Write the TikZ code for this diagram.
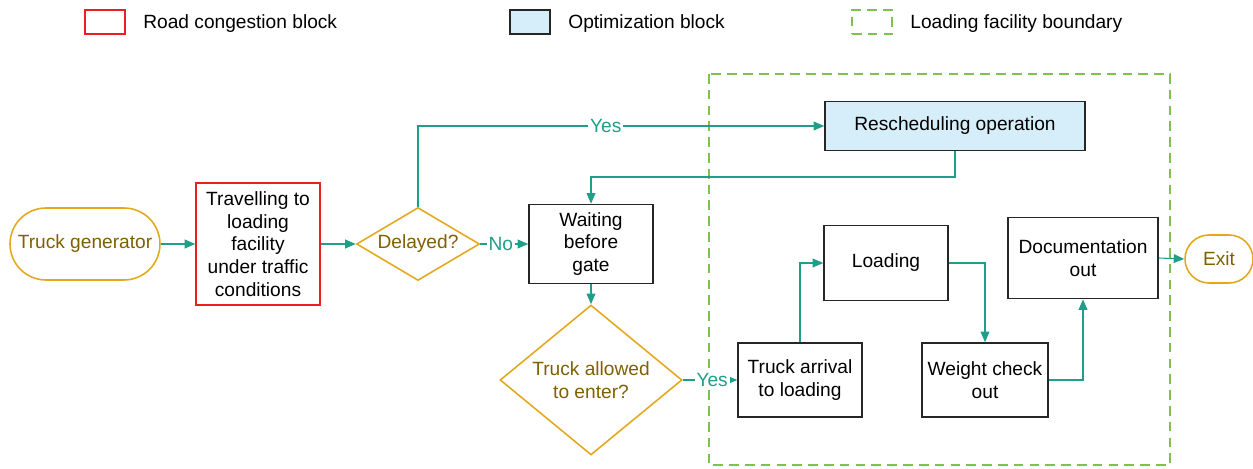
\documentclass[tikz,border=0pt]{standalone}
\usepackage{fontspec}
\setmainfont{Liberation Sans}
\usetikzlibrary{arrows.meta,shapes.geometric,positioning}
\definecolor{flowc}{RGB}{31,158,137}
\definecolor{goldc}{RGB}{227,168,30}
\definecolor{goldt}{RGB}{127,96,0}
\definecolor{redc}{RGB}{232,32,32}
\definecolor{bluef}{RGB}{213,238,249}
\definecolor{greenc}{RGB}{125,194,75}

\begin{document}
\begin{tikzpicture}
[x=0.02cm, y=-0.02cm, font=\fontsize{10.9}{13}\selectfont,
box/.style={draw=black!85, line width=0.9pt, align=center, minimum width=2.48cm},
term/.style={draw=goldc, line width=0.9pt, text=goldt, align=center},
cond/.style={diamond, draw=goldc, line width=0.9pt, text=goldt, align=center, inner sep=0pt},
flow/.style={draw=flowc, line width=0.6pt, -{Triangle[length=6pt,width=5pt]}},
lab/.style={fill=white, text=flowc, inner sep=1pt},
bound/.style={draw=greenc, line width=0.9pt, dash pattern=on 5.5pt off 3.5pt}]
\useasboundingbox (0,0) rectangle (1253,469);

% legend
\node (lg1) at (105,22)[draw=redc, line width=0.9pt, minimum width=0.8cm, minimum height=0.48cm] {};
\node (lt1) at (143,24)[anchor=west, inner sep=0pt] {Road congestion block};
\node (lg2) at (530,22)[draw=black!85, fill=bluef, line width=0.9pt, minimum width=0.8cm, minimum height=0.48cm] {};
\node (lt2) at (568,24)[anchor=west, inner sep=0pt] {Optimization block};
\node (lg3) at (872,22)[bound, minimum width=0.8cm, minimum height=0.48cm] {};
\node (lt3) at (910,24)[anchor=west, inner sep=0pt] {Loading facility boundary};

% loading facility
\draw[bound] (709,74) rectangle (1170,465);

\node (gen) at (85,244)[term, minimum width=3cm, minimum height=1.44cm, rounded corners=0.72cm] {Truck generator};
\node (trav) at (258,244)[box, draw=redc, minimum height=2.44cm] {Travelling to\\loading\\facility\\under traffic\\conditions};
\node (delay) at (418,244)[cond, aspect=1.68, minimum width=2.46cm, minimum height=1.46cm] {Delayed?};
\node (wait) at (591,244)[box, minimum height=1.58cm] {Waiting\\before\\gate};
\node (allow) at (591,380)[cond, aspect=1.21, minimum width=3.64cm, minimum height=3cm] {Truck allowed\\to enter?};
\node (arr) at (800,380)[box, minimum height=1.48cm] {Truck arrival\\to loading};
\node (load) at (886,263)[box, minimum height=1.5cm] {Loading};
\node (weigh) at (985,380)[box, minimum height=1.48cm] {Weight check\\out};
\node (doc) at (1083,258)[box, minimum width=3cm, minimum height=1.62cm] {Documentation\\out};
\node (exit) at (1219,259)[term, minimum width=1.36cm, minimum height=0.96cm, rounded corners=0.48cm] {Exit};
\node (resch) at (955,126)[box, fill=bluef, minimum width=5.2cm, minimum height=0.98cm] {Rescheduling operation};
\coordinate (c1) at (955,177);

\draw[flow] (gen) -- (trav);
\draw[flow] (trav) -- (delay);
\draw[flow] (delay) -- node[lab, pos=0.43] {No} (wait);
\draw[flow] (delay.north) |- node[lab, pos=0.731] {Yes} (resch.west);
\draw[flow] (resch.south) -- (c1) -| (wait.north);
\draw[flow] (wait) -- (allow);
\draw[flow] (allow.east) -- node[lab, pos=0.54] {Yes} (arr.west);
\draw[flow] (arr.north) |- (load.west);
\draw[flow] (load.east) -| (weigh.north);
\draw[flow] (weigh.east) -| (doc.south);
\draw[flow] (doc.east) -- (exit.west);
\end{tikzpicture}
\end{document}
